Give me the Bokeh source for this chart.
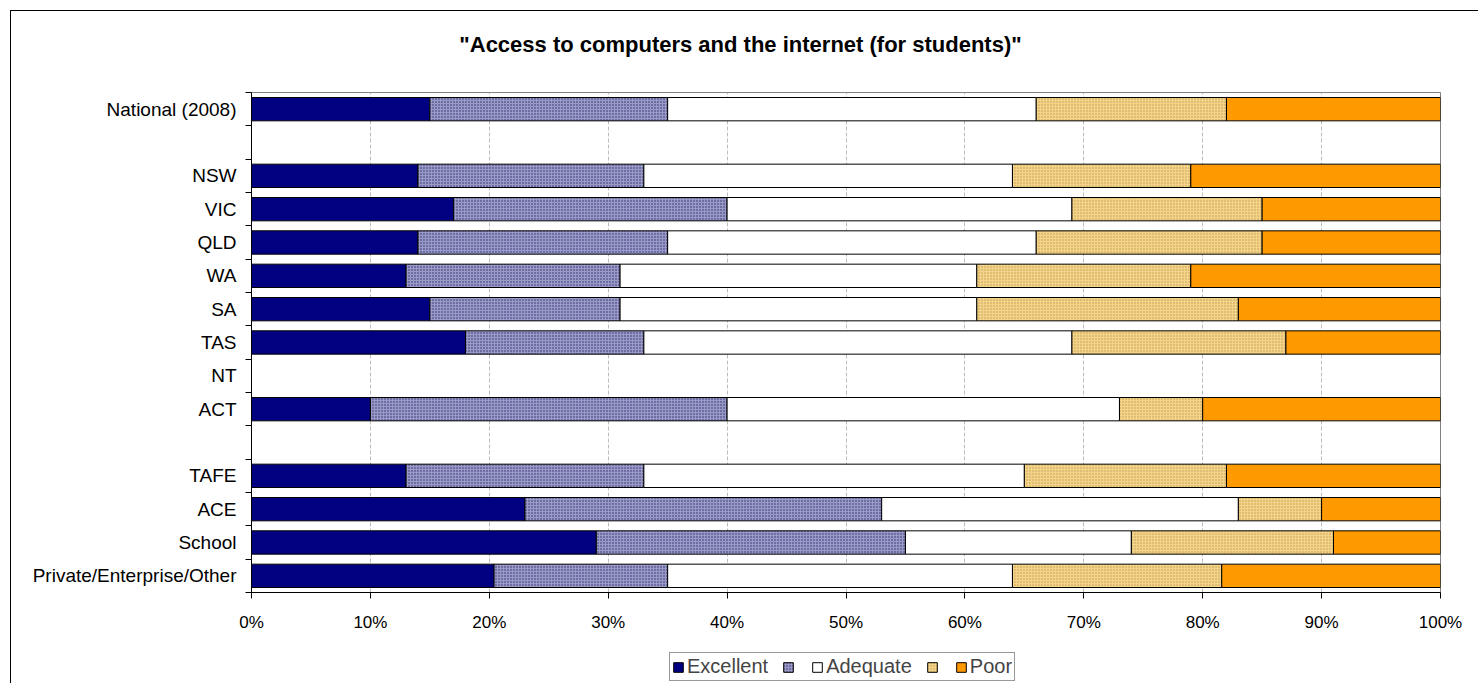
from bokeh.plotting import figure
from bokeh.layouts import column
from bokeh.models import (Range1d, FixedTicker, PrintfTickFormatter, Legend, LegendItem,
                          ColumnDataSource, Label)
from bokeh.embed import file_html
from bokeh.resources import INLINE

title_text = '"Access to computers and the internet (for students)"'

# Row slots from top to bottom ("" = empty gap row)
rows = ["National (2008)", "", "NSW", "VIC", "QLD", "WA", "SA", "TAS", "NT", "ACT", "",
        "TAFE", "ACE", "School", "Private/Enterprise/Other"]

categories = ["National (2008)", "NSW", "VIC", "QLD", "WA", "SA", "TAS", "NT", "ACT",
              "TAFE", "ACE", "School", "Private/Enterprise/Other"]
NaN = float("nan")
excellent = [15, 14, 17, 14, 13, 15, 18, NaN, 10, 13, 23, 29, 20.4]
good      = [20, 19, 23, 21, 18, 16, 15, NaN, 30, 20, 30, 26, 14.6]
adequate  = [31, 31, 29, 31, 30, 30, 36, NaN, 33, 32, 30, 19, 29.0]
fair      = [16, 15, 16, 19, 18, 22, 18, NaN, 7, 17, 7, 17, 17.6]
poor      = [18, 21, 15, 15, 21, 17, 13, NaN, 20, 18, 10, 9, 18.4]

series_keys = ["excellent", "good", "adequate", "fair", "poor"]
legend_labels = ["Excellent", " ", "Adequate", "  ", "Poor"]
x_ticks = list(range(0, 101, 10))

fills = ["#000080", "#9a9ac8", "#ffffff", "#f3d488", "#ff9900"]
hatches = [" ", "dot", " ", "dot", " "]
hatch_colors = ["#000080", "#2c2c68", "#ffffff", "#c09a50", "#ff9900"]

n = len(rows)
ypos = [n - rows.index(c) - 0.5 for c in categories]

source = ColumnDataSource(dict(y=ypos, cat=categories, excellent=excellent, good=good,
                               adequate=adequate, fair=fair, poor=poor))

# title strip
pt = figure(width=1467, height=80, output_backend="svg", toolbar_location=None, title=None,
            x_range=Range1d(0, 100), y_range=Range1d(0, 1),
            x_axis_location=None, y_axis_location=None,
            min_border_left=0, min_border_right=0, min_border_top=0, min_border_bottom=0,
            background_fill_color="white", border_fill_color="white")
pt.outline_line_color = None
pt.xgrid.visible = False
pt.ygrid.visible = False
pt.add_layout(Label(x=489, y=47, x_units="screen", y_units="screen", text=title_text,
                    text_align="center", text_baseline="middle",
                    text_font="Liberation Sans", text_font_style="bold",
                    text_font_size="22px", text_color="black"))

p = figure(width=1467, height=553, output_backend="svg", toolbar_location=None, title=None,
           x_range=Range1d(0, 100), y_range=Range1d(0, n),
           min_border_left=240, min_border_right=38, min_border_top=1, min_border_bottom=52,
           background_fill_color="white", border_fill_color="white")
p.outline_line_color = "#808080"
p.outline_line_width = 1

renderers = p.hbar_stack(series_keys, y="y", height=0.7, source=source,
                         fill_color=fills, line_color="black", line_width=1,
                         hatch_pattern=hatches, hatch_color=hatch_colors,
                         hatch_scale=[3] * 5, hatch_weight=[1] * 5)

# grid
p.xgrid.grid_line_color = "#bdbdbd"
p.xgrid.grid_line_dash = "4 2"
p.ygrid.grid_line_color = None

# x axis
xa = p.xaxis[0]
xa.ticker = FixedTicker(ticks=x_ticks, minor_ticks=[])
xa.formatter = PrintfTickFormatter(format="%d%%")
xa.axis_line_color = "black"
xa.major_tick_line_color = "black"
xa.major_tick_out = 6
xa.major_tick_in = 0
xa.minor_tick_line_color = None
xa.major_label_standoff = 14
xa.major_label_text_font = "Liberation Sans"
xa.major_label_text_font_size = "17px"
xa.major_label_text_color = "black"

# y axis
ya = p.yaxis[0]
centers = [n - i - 0.5 for i in range(n)]
ya.ticker = FixedTicker(ticks=centers, minor_ticks=list(range(0, n + 1)))
ya.major_label_overrides = {c: rows[i] for i, c in enumerate(centers)}
ya.axis_line_color = "black"
ya.major_tick_line_color = None
ya.major_tick_out = 0
ya.major_tick_in = 0
ya.minor_tick_line_color = "black"
ya.minor_tick_out = 6
ya.minor_tick_in = 0
ya.major_label_standoff = 9
ya.major_label_text_font = "Liberation Sans"
ya.major_label_text_font_size = "19px"
ya.major_label_text_color = "black"

# legend strip (separate figure so the legend sits inside its frame)
pl = figure(width=1467, height=39, output_backend="svg", toolbar_location=None, title=None,
            x_range=Range1d(0, 100), y_range=Range1d(0, n),
            x_axis_location=None, y_axis_location=None,
            min_border_left=0, min_border_right=0, min_border_top=0, min_border_bottom=0,
            background_fill_color="white", border_fill_color="white")
pl.outline_line_color = None
pl.xgrid.visible = False
pl.ygrid.visible = False
leg_renderers = pl.hbar_stack(series_keys, y="y", height=0.7, source=source,
                              fill_color=fills, line_color="black", line_width=1,
                              hatch_pattern=hatches, hatch_color=hatch_colors,
                              hatch_scale=[3] * 5, hatch_weight=[1] * 5)
for r in leg_renderers:
    r.visible = False

legend = Legend(items=[LegendItem(label=lab, renderers=[r]) for lab, r in zip(legend_labels, leg_renderers)],
                location=(418, 2), orientation="horizontal", margin=0, padding=2,
                spacing=14, label_standoff=3, glyph_width=12, glyph_height=12,
                label_width=0, label_height=18,
                label_text_font="Liberation Sans", label_text_font_size="20px",
                border_line_color="#333333", border_line_width=1,
                background_fill_color="white", background_fill_alpha=1,
                inactive_fill_alpha=0)
pl.add_layout(legend)

layout = column(pt, p, pl, spacing=0)
layout.styles = {"margin-left": "10px", "margin-top": "10px",
                 "border-left": "1px solid black", "border-top": "1px solid black"}

open("out.html", "w").write(file_html(layout, INLINE))
